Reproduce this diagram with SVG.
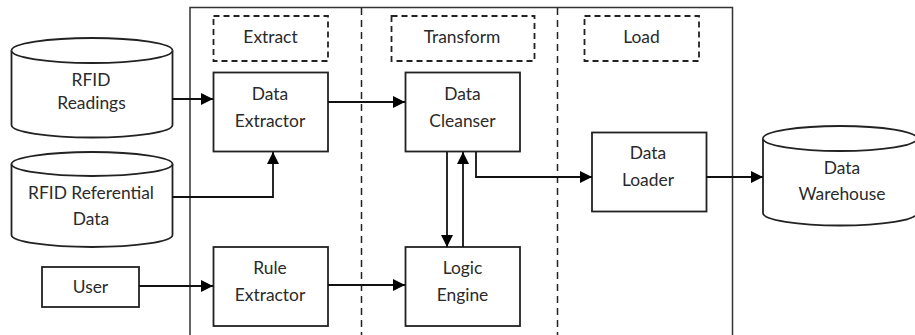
<svg xmlns="http://www.w3.org/2000/svg" width="915" height="335" viewBox="0 0 915 335">
<style>
.s{fill:#fff;stroke:#222;stroke-width:1.8}
.d{fill:#fff;stroke:#222;stroke-width:1.8;stroke-dasharray:6 4}
.dl{fill:none;stroke:#222;stroke-width:1.5;stroke-dasharray:7 5}
.c{fill:none;stroke:#111;stroke-width:1.8}
text{font-family:"Lato","Liberation Sans",sans-serif;font-size:17.4px;fill:#2a2a2a;text-anchor:middle}
</style>
<defs>
<marker id="a" markerUnits="userSpaceOnUse" markerWidth="13" markerHeight="13" refX="12" refY="6" orient="auto"><path d="M0 0L12 6L0 12Z" fill="#000"/></marker>
</defs>
<g id="frame">
<rect x="190" y="7.5" width="542.500" height="340" fill="#fff" stroke="#333" stroke-width="1.5"/>
<path class="dl" d="M361.500 8V335"/>
<path class="dl" d="M557.500 8V335"/>
</g>
<g id="readings">
<path class="s" d="M11.500 50.500A80.500 12.500 0 0 1 172.500 50.500V125A80.500 12.500 0 0 1 11.500 125Z"/>
<path class="s" d="M11.500 50.500A80.500 12.500 0 0 0 172.500 50.500"/>
<text x="91" y="85.500">RFID</text><text x="91.500" y="108.500">Readings</text>
</g>
<g id="referential">
<path class="s" d="M11.500 164A80.500 12 0 0 1 172.500 164V235A80.500 12 0 0 1 11.500 235Z"/>
<path class="s" d="M11.500 164A80.500 12 0 0 0 172.500 164"/>
<text x="91" y="198.500">RFID Referential</text><text x="91" y="225">Data</text>
</g>
<g id="user"><rect class="s" x="42" y="267" width="97" height="40"/><text x="90.500" y="293">User</text></g>
<g id="extract"><rect class="d" x="213.500" y="16" width="114.500" height="45"/><text x="270.500" y="42.500">Extract</text></g>
<g id="transform"><rect class="d" x="391.500" y="16" width="143" height="45"/><text x="462" y="42.500">Transform</text></g>
<g id="load"><rect class="d" x="584.500" y="16" width="114.500" height="45"/><text x="641.500" y="42.500">Load</text></g>
<g id="data-extractor"><rect class="s" x="213.500" y="72.500" width="114.500" height="79"/><text x="270" y="100">Data</text><text x="270" y="127">Extractor</text></g>
<g id="rule-extractor"><rect class="s" x="213.500" y="247" width="114.500" height="79"/><text x="270" y="274">Rule</text><text x="270" y="301">Extractor</text></g>
<g id="data-cleanser"><rect class="s" x="405.500" y="72.500" width="114.500" height="79"/><text x="462.500" y="100">Data</text><text x="462.500" y="127">Cleanser</text></g>
<g id="logic-engine"><rect class="s" x="405.500" y="247" width="114.500" height="79"/><text x="462.500" y="274">Logic</text><text x="462.500" y="301">Engine</text></g>
<g id="data-loader"><rect class="s" x="592" y="132.500" width="114.500" height="79"/><text x="648" y="159">Data</text><text x="648" y="186">Loader</text></g>
<g id="warehouse">
<path class="s" d="M763 138.500A77 12.500 0 0 1 917 138.500V213A77 12.500 0 0 1 763 213Z"/>
<path class="s" d="M763 138.500A77 12.500 0 0 0 917 138.500"/>
<text x="842" y="173.500">Data</text><text x="842" y="200">Warehouse</text>
</g>
<g id="connectors">
<path class="c" marker-end="url(#a)" d="M172 99H213"/>
<path class="c" marker-end="url(#a)" d="M172 197H273V152"/>
<path class="c" marker-end="url(#a)" d="M139 286H213"/>
<path class="c" marker-end="url(#a)" d="M328 102H405"/>
<path class="c" marker-end="url(#a)" d="M328 285H405"/>
<path class="c" marker-end="url(#a)" d="M447 152V247"/>
<path class="c" marker-end="url(#a)" d="M463 247V152"/>
<path class="c" marker-end="url(#a)" d="M476 152V177H592"/>
<path class="c" marker-end="url(#a)" d="M706 177H763"/>
</g>
</svg>
